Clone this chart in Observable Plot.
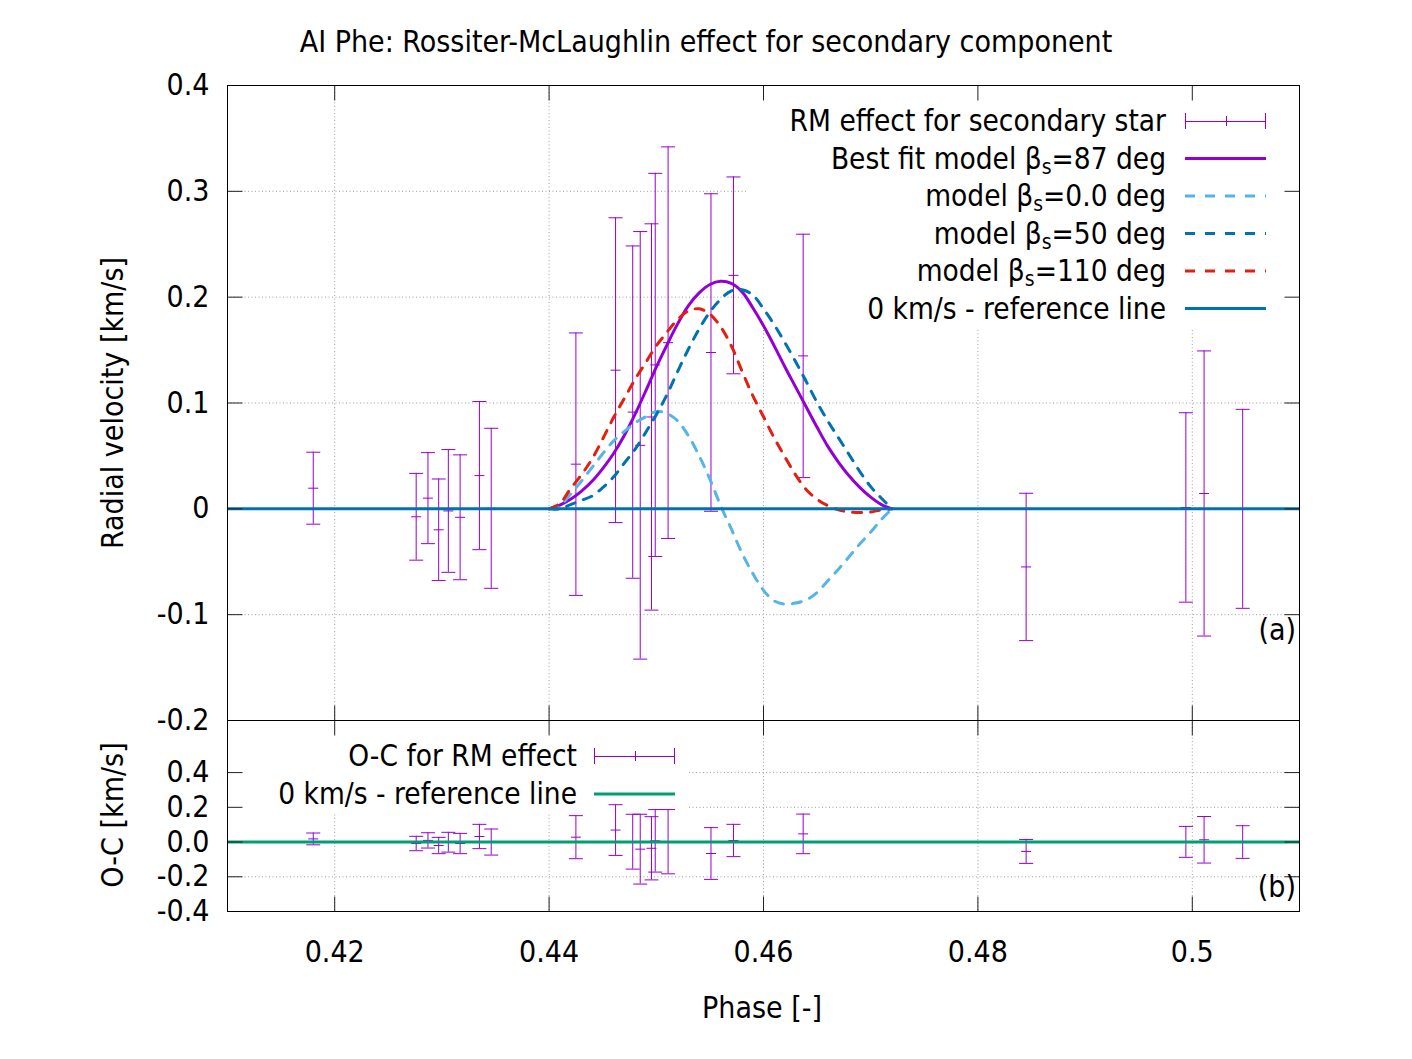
<!DOCTYPE html>
<html>
<head>
<meta charset="utf-8">
<script src="https://cdn.jsdelivr.net/npm/d3@7"></script>
<script src="https://cdn.jsdelivr.net/npm/@observablehq/plot@0.6"></script>
<style>
  body { margin: 0; background: #fff; }
  #wrap { position: relative; width: 1412px; height: 1059px; overflow: hidden; background: #fff; }
  #wrap > svg { position: absolute; left: 0; }
</style>
</head>
<body>
<div id="wrap"></div>
<script>
// ---------- data ----------
const xDomain = [0.41, 0.51];
const xTicks = [0.42, 0.44, 0.46, 0.48, 0.5];
const xTickLabels = ["0.42", "0.44", "0.46", "0.48", "0.5"];

const yTopDomain = [-0.2, 0.4];
const yTopTicks = [-0.2, -0.1, 0, 0.1, 0.2, 0.3, 0.4];
const yTopLabels = ["-0.2", "-0.1", "0", "0.1", "0.2", "0.3", "0.4"];

const yBotDomain = [-0.4, 0.7];
const yBotTicks = [-0.4, -0.2, 0, 0.2, 0.4];
const yBotLabels = ["-0.4", "-0.2", "0.0", "0.2", "0.4"];

// RM effect measurements (phase, RV [km/s], error)
const rmPhase = [0.4180, 0.4276, 0.4287, 0.4297, 0.4306, 0.4317, 0.4335, 0.4346,
                 0.4425, 0.4462, 0.4478, 0.4485, 0.44955, 0.4499, 0.4511, 0.4551,
                 0.4572, 0.4637, 0.4845, 0.4994, 0.5011, 0.5047];
const rmValue = [0.0195, -0.0075, 0.0101, -0.0198, -0.002, -0.008, 0.0314, 0.0005,
                 0.0422, 0.131, 0.0914, 0.060, 0.0868, 0.136, 0.157, 0.1477,
                 0.2206, 0.1445, -0.0549, 0.0013, 0.0145, 0.0];
const rmError = [0.034, 0.041, 0.043, 0.048, 0.058, 0.059, 0.070, 0.0756,
                 0.124, 0.144, 0.157, 0.202, 0.1825, 0.181, 0.185, 0.150,
                 0.093, 0.115, 0.0696, 0.0895, 0.1347, 0.094];

// O-C residuals
const ocValue = [0.018, -0.0085, 0.0095, -0.020, -0.001, -0.0085, 0.032, 0.0,
                 0.028, 0.069, 0.002, -0.041, -0.036, 0.007, 0.002, -0.066,
                 0.009, 0.047, -0.054, 0.001, 0.013, 0.0];
const ocError = [0.034, 0.0415, 0.044, 0.047, 0.057, 0.0585, 0.070, 0.075,
                 0.124, 0.146, 0.158, 0.201, 0.182, 0.180, 0.185, 0.149,
                 0.093, 0.114, 0.069, 0.089, 0.134, 0.094];

// model curves
const modelPhase = [0.440, 0.441, 0.442, 0.443, 0.444, 0.445, 0.446, 0.447, 0.448, 0.449,
                    0.450, 0.451, 0.452, 0.453, 0.454, 0.455, 0.456, 0.457, 0.458, 0.459,
                    0.460, 0.461, 0.462, 0.463, 0.464, 0.465, 0.466, 0.467, 0.468, 0.469,
                    0.470, 0.471, 0.472];
const modelBest = [0, 0.0035, 0.009, 0.0165, 0.026, 0.038, 0.052, 0.069, 0.089, 0.111,
                   0.134, 0.155, 0.175, 0.192, 0.204, 0.212, 0.215, 0.213, 0.205, 0.190,
                   0.173, 0.154, 0.134, 0.115, 0.096, 0.077, 0.059, 0.044, 0.031, 0.020,
                   0.011, 0.004, 0];
const model0 = [0, 0.003, 0.014, 0.026, 0.039, 0.052, 0.064, 0.073, 0.081, 0.087,
                0.092, 0.090, 0.083, 0.069, 0.050, 0.028, 0.003, -0.019, -0.042, -0.061,
                -0.077, -0.087, -0.090, -0.089, -0.086, -0.079, -0.068, -0.057, -0.045, -0.033,
                -0.022, -0.010, 0];
const model50 = [0, 0.000, 0.004, 0.008, 0.012, 0.020, 0.030, 0.043, 0.056, 0.072,
                 0.089, 0.108, 0.130, 0.151, 0.170, 0.186, 0.198, 0.206, 0.207, 0.202,
                 0.189, 0.174, 0.157, 0.139, 0.120, 0.1005, 0.083, 0.067, 0.051, 0.035,
                 0.021, 0.010, 0];
const model110 = [0, 0.005, 0.019, 0.032, 0.047, 0.066, 0.086, 0.104, 0.122, 0.138,
                  0.154, 0.167, 0.179, 0.187, 0.189, 0.184, 0.172, 0.154, 0.130, 0.107,
                  0.087, 0.067, 0.049, 0.032, 0.018, 0.009, 0.003, -0.001, -0.003, -0.0035,
                  -0.003, -0.001, 0];

// ---------- styling ----------
const FONT = "font-family: 'DejaVu Sans', sans-serif; font-stretch: condensed;";
const FS = 30;
const KFS = 29.5;
const purple = "#9400d3";
const lightBlue = "#56b4e9";
const darkBlue = "#0072b2";
const red = "#e51e10";
const refBlue = "#0072b2";
const green = "#009e73";
const gridColor = "#a0a0a0";
const dash = "9,9";

// key areas (grid lines are not drawn under the keys)
const keyBoxTop = {x1: 0.4586, x2: 0.51, y1: 0.1685, y2: 0.4};
const keyBoxBot = {x1: 0.41, x2: 0.4530, y1: 0.17, y2: 0.7};

// ---------- tables ----------
const rm = rmPhase.map((p, i) => ({phase: p, v: rmValue[i], lo: rmValue[i] - rmError[i], hi: rmValue[i] + rmError[i]}));
const oc = rmPhase.map((p, i) => ({phase: p, v: ocValue[i], lo: ocValue[i] - ocError[i], hi: ocValue[i] + ocError[i]}));
const models = modelPhase.map((p, i) => ({phase: p, best: modelBest[i], b0: model0[i], b50: model50[i], b110: model110[i]}));

// ---------- symbols ----------
const capSym = {draw(c) { c.moveTo(-7, 0); c.lineTo(7, 0); }};
const midSym = {draw(c) { c.moveTo(-5, 0); c.lineTo(5, 0); }};
const tickL = {draw(c) { c.moveTo(0, 0); c.lineTo(15, 0); }};
const tickR = {draw(c) { c.moveTo(0, 0); c.lineTo(-15, 0); }};
const tickB = {draw(c) { c.moveTo(0, 0); c.lineTo(0, -15); }};
const tickT = {draw(c) { c.moveTo(0, 0); c.lineTo(0, 15); }};

function errorBars(data) {
  return [
    Plot.ruleX(data, {x: "phase", y1: "lo", y2: "hi", stroke: purple, strokeWidth: 1}),
    Plot.dot(data, {x: "phase", y: "hi", symbol: capSym, r: 5, fill: "none", stroke: purple, strokeWidth: 1}),
    Plot.dot(data, {x: "phase", y: "lo", symbol: capSym, r: 5, fill: "none", stroke: purple, strokeWidth: 1}),
    Plot.dot(data, {x: "phase", y: "v", symbol: midSym, r: 5, fill: "none", stroke: purple, strokeWidth: 1})
  ];
}
function frameTicks(yTicks, yDom) {
  const o = {r: 5, fill: "none", stroke: "#222", strokeWidth: 1};
  return [
    Plot.dot(yTicks, {x: () => xDomain[0], y: d => d, symbol: tickL, ...o}),
    Plot.dot(yTicks, {x: () => xDomain[1], y: d => d, symbol: tickR, ...o}),
    Plot.dot(xTicks, {x: d => d, y: () => yDom[0], symbol: tickB, ...o}),
    Plot.dot(xTicks, {x: d => d, y: () => yDom[1], symbol: tickT, ...o})
  ];
}
const gridOpts = {stroke: gridColor, strokeWidth: 1, strokeDasharray: "1,2.5"};
const svgStyle = `${FONT} font-size: ${FS}px; background: transparent; overflow: visible; color: #000;`;
const lineOpts = {x: "phase", strokeWidth: 3, curve: "catmull-rom"};

// ---------- top panel ----------
const topPlot = Plot.plot({
  width: 1412, height: 721,
  marginTop: 85, marginBottom: 1, marginLeft: 227, marginRight: 113,
  style: svgStyle,
  x: {domain: xDomain, axis: null},
  y: {domain: yTopDomain, ticks: yTopTicks, tickFormat: d => yTopLabels[yTopTicks.indexOf(d)],
      tickSize: 0, tickPadding: 18, label: null},
  marks: [
    Plot.ruleX(xTicks, gridOpts),
    Plot.ruleY(yTopTicks, gridOpts),
    Plot.rect([keyBoxTop], {x1: "x1", x2: "x2", y1: "y1", y2: "y2", fill: "white"}),
    ...errorBars(rm),
    Plot.line(models, {...lineOpts, y: "best", stroke: purple}),
    Plot.line(models, {...lineOpts, y: "b0", stroke: lightBlue, strokeDasharray: dash}),
    Plot.line(models, {...lineOpts, y: "b50", stroke: darkBlue, strokeDasharray: dash}),
    Plot.line(models, {...lineOpts, y: "b110", stroke: red, strokeDasharray: dash}),
    Plot.ruleY([0], {stroke: refBlue, strokeWidth: 3}),
    ...frameTicks(yTopTicks, yTopDomain),
    Plot.frame({stroke: "#000", strokeWidth: 1})
  ]
});
topPlot.style.top = "0px";

// ---------- bottom panel ----------
const botPlot = Plot.plot({
  width: 1412, height: 359,
  marginTop: 20, marginBottom: 148, marginLeft: 227, marginRight: 113,
  style: svgStyle,
  x: {domain: xDomain, ticks: xTicks, tickFormat: d => xTickLabels[xTicks.indexOf(d)],
      tickSize: 0, tickPadding: 29, label: null},
  y: {domain: yBotDomain, ticks: yBotTicks, tickFormat: d => yBotLabels[yBotTicks.indexOf(d)],
      tickSize: 0, tickPadding: 18, label: null},
  marks: [
    Plot.ruleX(xTicks, gridOpts),
    Plot.ruleY(yBotTicks, gridOpts),
    Plot.rect([keyBoxBot], {x1: "x1", x2: "x2", y1: "y1", y2: "y2", fill: "white"}),
    ...errorBars(oc),
    Plot.ruleY([0], {stroke: green, strokeWidth: 3}),
    ...frameTicks(yBotTicks, yBotDomain),
    Plot.frame({stroke: "#000", strokeWidth: 1})
  ]
});
botPlot.style.top = "700px";

const wrap = document.getElementById("wrap");
wrap.appendChild(topPlot);
wrap.appendChild(botPlot);

// ---------- overlay: title, axis labels, keys ----------
const ov = d3.select(wrap).append("svg")
  .attr("width", 1412).attr("height", 1059)
  .attr("style", `position:absolute;left:0;top:0;${FONT} font-size:${FS}px;`);

function txt(x, y, s, anchor, rot) {
  const t = ov.append("text").attr("x", x).attr("y", y).attr("text-anchor", anchor || "middle")
    .attr("dominant-baseline", "central").attr("fill", "#000").text(s);
  if (rot) t.attr("transform", `rotate(${rot},${x},${y})`);
  return t;
}
txt(706, 41, "AI Phe: Rossiter-McLaughlin effect for secondary component");
txt(112, 403, "Radial velocity [km/s]", "middle", -90);
txt(112, 815, "O-C [km/s]", "middle", -90);
txt(762, 1007, "Phase [-]");
txt(1296, 629, "(a)", "end");
txt(1296, 886, "(b)", "end");

function keyText(xr, y, pre, sub, post) {
  const t = ov.append("text").attr("x", xr).attr("y", y + 10).attr("text-anchor", "end")
    .attr("font-size", KFS).attr("fill", "#000");
  t.append("tspan").text(pre);
  if (sub) {
    t.append("tspan").attr("dy", 5).attr("font-size", 21).text(sub);
    t.append("tspan").attr("dy", -5).text(post);
  }
}
function keyErr(x0, x1, y) {
  const g = ov.append("g").attr("stroke", purple).attr("stroke-width", 1);
  g.append("line").attr("x1", x0).attr("x2", x1).attr("y1", y + 0.5).attr("y2", y + 0.5);
  g.append("line").attr("x1", x0 + 0.5).attr("x2", x0 + 0.5).attr("y1", y - 8).attr("y2", y + 8);
  g.append("line").attr("x1", x1 - 0.5).attr("x2", x1 - 0.5).attr("y1", y - 8).attr("y2", y + 8);
  const xm = Math.round((x0 + x1) / 2) + 0.5;
  g.append("line").attr("x1", xm).attr("x2", xm).attr("y1", y - 5).attr("y2", y + 5);
}
function keyLine(x0, x1, y, color, dashed) {
  const l = ov.append("line").attr("x1", x0).attr("x2", x1).attr("y1", y).attr("y2", y)
    .attr("stroke", color).attr("stroke-width", 3);
  if (dashed) l.attr("stroke-dasharray", "10,10");
}

// top key
const kx = 1166, s0 = 1185, s1 = 1266;
const rows = [121, 158.5, 196, 233.5, 271, 308.5];
keyText(kx, rows[0], "RM effect for secondary star");
keyErr(s0, s1, rows[0]);
keyText(kx, rows[1], "Best fit model β", "s", "=87 deg");
keyLine(s0, s1, rows[1], purple, false);
keyText(kx, rows[2], "model β", "s", "=0.0 deg");
keyLine(s0, s1, rows[2], lightBlue, true);
keyText(kx, rows[3], "model β", "s", "=50 deg");
keyLine(s0, s1, rows[3], darkBlue, true);
keyText(kx, rows[4], "model β", "s", "=110 deg");
keyLine(s0, s1, rows[4], red, true);
keyText(kx, rows[5], "0 km/s - reference line");
keyLine(s0, s1, rows[5], refBlue, false);

// bottom key
keyText(577, 756, "O-C for RM effect");
keyErr(594, 675, 756);
keyText(577, 794, "0 km/s - reference line");
keyLine(594, 675, 794, green, false);
</script>
</body>
</html>
